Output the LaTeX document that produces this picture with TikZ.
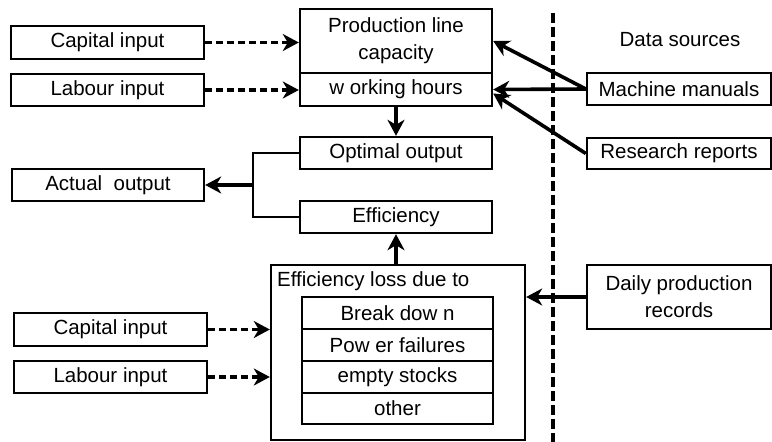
\documentclass[tikz,border=0pt]{standalone}
\usepackage{fontspec}
\setmainfont{Liberation Sans}
\usetikzlibrary{arrows.meta}

\tikzset{
  box/.style={draw, line width=2.4pt, inner sep=0pt, align=center, minimum width=192pt, minimum height=32pt},
  arr/.style={line width=3.6pt, -{Stealth[length=16pt, width=17pt, inset=5pt]}},
  dasharr/.style={arr, dash pattern=on 7pt off 4pt},
}

\begin{document}
\begin{tikzpicture}[x=1pt, y=-1pt, font=\fontsize{20.5}{27}\selectfont]

\useasboundingbox (0,0) rectangle (772,442);

% Inputs on the left
\node[box, minimum width=193pt, minimum height=33pt] (cap1) at (107.5,42.5) {Capital input};
\node[box, minimum width=193pt] (lab1) at (107.5,90) {Labour input};
\node[box] (act) at (108,185) {Actual\ \ output};
\node[box, minimum width=193pt, minimum height=33pt] (cap2) at (110.5,329.5) {Capital input};
\node[box, minimum width=193pt] (lab2) at (110.5,377) {Labour input};

% Middle column
\node[box, minimum height=64pt] (prod) at (396,41) {Production line\\capacity};
\node[box, minimum height=33pt] (hours) at (396,89.5) {w orking hours};
\node[box] (opt) at (396,153) {Optimal output};
\node[box] (eff) at (396,217) {Efficiency};

% Efficiency loss block
\node[box, minimum width=254pt, minimum height=175pt] (loss) at (398,352.5) {};
\node[anchor=west, inner sep=0pt] (losstitle) at (277,281) {Efficiency loss due to};
\node[box, minimum width=191pt] (brk) at (397.5,313) {Break dow n};
\node[box, minimum width=191pt] (pow) at (397.5,345) {Pow er failures};
\node[box, minimum width=191pt] (stk) at (397.5,377) {empty stocks};
\node[box, minimum width=191pt, minimum height=31pt] (oth) at (397.5,408.5) {other};

% Data sources
\node (srctitle) at (680,40) {Data sources};
\node[box, minimum width=184pt] (manuals) at (679,89) {Machine manuals};
\node[box, minimum width=184pt, minimum height=31pt] (reports) at (679,153.5) {Research reports};
\node[box, minimum width=184pt, minimum height=64pt] (daily) at (679,297) {Daily production\\records};

% Divider
\coordinate (divtop) at (553,13);
\coordinate (divbot) at (553,442);
\draw[line width=3.6pt, dash pattern=on 10pt off 4pt] (divtop) -- (divbot);

% Dashed input arrows
\draw[dasharr] (cap1.east) -- (cap1.east -| prod.west);
\draw[dasharr] (lab1.east) -- (lab1.east -| hours.west);
\draw[dasharr] (cap2.east) -- (cap2.east -| loss.west);
\draw[dasharr] (lab2.east) -- (lab2.east -| loss.west);

% Source arrows
\draw[arr] (manuals.west) -- (prod.east);
\draw[arr] (manuals.west) -- (hours.east);
\draw[arr] (reports.west) -- ([yshift=-4pt]hours.east);
\draw[arr] (daily.west) -- (daily.west -| loss.east);

% Flow in the middle
\draw[arr] (hours.south) -- (opt.north);
\draw[arr] (eff.south |- loss.north) -- (eff.south);

% Bracket to actual output
\coordinate (join) at (253,185);
\draw[line width=2.4pt] (opt.west) -| (join) |- (eff.west);
\draw[arr] (join) -- (act.east);

\end{tikzpicture}
\end{document}
